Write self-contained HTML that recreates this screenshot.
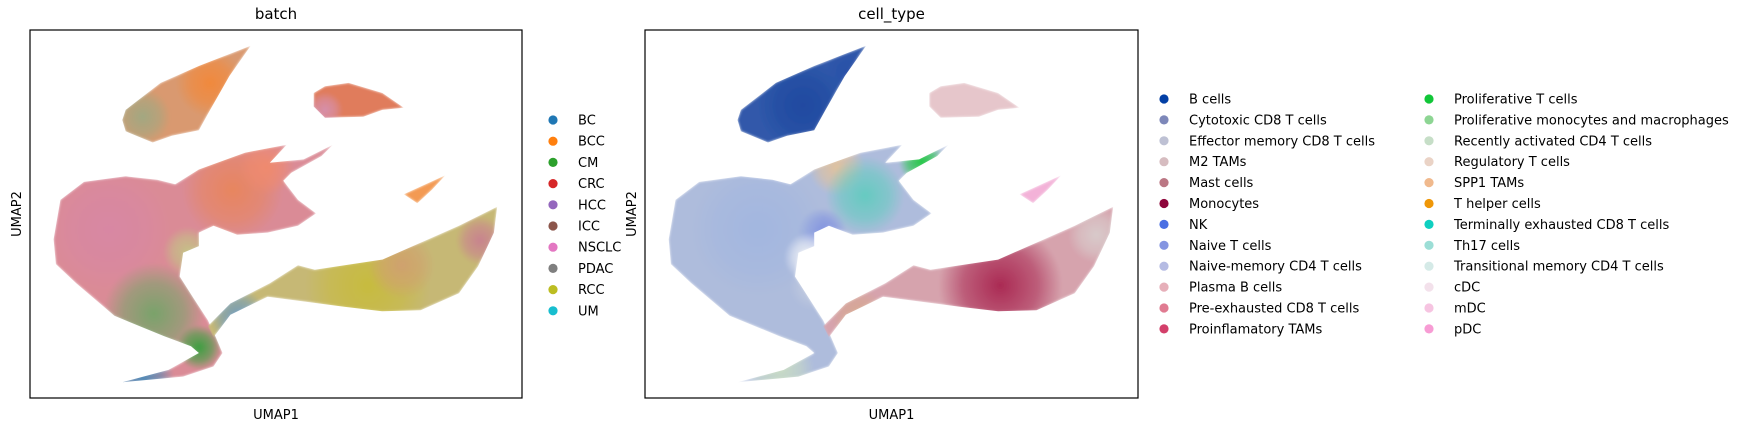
<!DOCTYPE html>
<html><head><meta charset="utf-8"><style>
html,body{margin:0;padding:0;background:#fff;}
svg{display:block;font-family:"DejaVu Sans","Liberation Sans",sans-serif;}
</style></head><body>
<svg id="fig" width="1764" height="429" viewBox="0 0 1764 429" xmlns="http://www.w3.org/2000/svg">
<defs>
<filter id="soft" x="-5%" y="-5%" width="110%" height="110%"><feGaussianBlur stdDeviation="1.2"/></filter>
</defs>
</svg>
<script>
// ---- data (UMAP coordinates, domain x 0..437, y 0..327) ----
const clusterNames = ["bcell-wedge","myeloid-arc","pdc-islet","tcell-main","macrophage-stream"];
const clusterOutlines = [
 [[82,247],[85,256],[116,280],[150,295],[196,313],[177,286],[160,256],[150,238],[126,233],[109,227],[85,237]],
 [[252,271],[262,277],[283,280],[313,271],[332,258],[313,256],[296,250],[262,249],[252,259]],
 [[334,182],[369,198],[357,185],[344,173],[332,181]],
 [[21,141],[27,176],[48,192],[85,197],[113,194],[129,190],[150,203],[191,218],[228,225],[213,209],[243,212],[269,225],[259,215],[232,200],[225,193],[238,176],[254,164],[238,153],[211,147],[184,145],[163,153],[150,147],[150,135],[136,129],[133,108],[145,89],[158,69],[165,54],[171,40],[163,28],[136,19],[82,14],[123,25],[150,40],[143,46],[119,55],[75,73],[41,102],[23,119]],
 [[158,64],[178,84],[213,102],[238,118],[253,114],[313,123],[381,153],[415,170],[412,147],[398,117],[381,93],[347,78],[313,77],[279,81],[211,90],[178,74],[163,54]]
];
const batchBase = ["#d9996f","#e07c5c","#f39a52","#da8b96","#c6b874"];
const cellBase  = ["#3059aa","#e6c6cb","#f3b2d8","#aebcdc","#d6a3ad"];
// colour patches: cluster index, centre x, centre y, radius, colour
const batchPatchCluster = [0,0,1,3,3,3,3,3,3,3,3,4,4,4,4];
const batchPatchX = [100,160,262,180,70,110,150,100,140,160,210,300,185,400,330];
const batchPatchY = [250,280,256,185,150,75,45,18,130,105,205,100,72,140,118];
const batchPatchR = [25,30,16,45,55,45,20,28,22,18,25,55,25,22,30];
const batchPatchC = ["#9fa882","#f2883a","#d690ae","#e8855c","#d887a4","#74a468","#34a03c","#4a88b6","#c4c286","#eef0ea","#f08a6c","#c7bb3c","#6d9bbf","#c98090","#d0a070"];
const cellPatchCluster = [0,0,3,3,3,3,3,3,3,3,4,4,4];
const cellPatchX = [140,180,170,195,245,157,100,120,150,145,315,400,190];
const cellPatchY = [260,290,205,180,210,147,150,25,100,125,100,145,72];
const cellPatchR = [40,20,25,35,20,22,60,30,22,22,55,25,25];
const cellPatchC = ["#1f49a0","#2a50a8","#e2c29c","#62cbbf","#1fc840","#7c8ee0","#a2b6e0","#c9dcc4","#c2cbe0","#f2f4f8","#a8244f","#d9cccc","#d6a890"];

const batchCats = ["BC","BCC","CM","CRC","HCC","ICC","NSCLC","PDAC","RCC","UM"];
const batchColors = ["#1f77b4","#ff7f0e","#2ca02c","#d62728","#9467bd","#8c564b","#e377c2","#7f7f7f","#bcbd22","#17becf"];
const cellCats = ["B cells","Cytotoxic CD8 T cells","Effector memory CD8 T cells","M2 TAMs","Mast cells","Monocytes","NK","Naive T cells","Naive-memory CD4 T cells","Plasma B cells","Pre-exhausted CD8 T cells","Proinflamatory TAMs","Proliferative T cells","Proliferative monocytes and macrophages","Recently activated CD4 T cells","Regulatory T cells","SPP1 TAMs","T helper cells","Terminally exhausted CD8 T cells","Th17 cells","Transitional memory CD4 T cells","cDC","mDC","pDC"];
const cellColors = ["#023fa5","#7d87b9","#bec1d4","#d6bcc0","#bb7784","#8e063b","#4a6fe3","#8595e1","#b5bbe3","#e6afb9","#e07b91","#d33f6a","#11c638","#8dd593","#c6dec7","#ead3c6","#f0b98d","#ef9708","#0fcfc0","#9cded6","#d5eae7","#f3e1eb","#f6c4e1","#f79cd4"];

const NS="http://www.w3.org/2000/svg";
const svg=document.getElementById('fig');
function mk(tag,attrs,parent){const e=document.createElementNS(NS,tag);for(const k in attrs)e.setAttribute(k,attrs[k]);(parent||svg).appendChild(e);return e;}

function drawPanel(ax, title, base, pc, px, py, pr, pcol, pid){
  const xS=u=>ax.x0+(u/437)*(ax.x1-ax.x0);
  const yS=v=>ax.y1-(v/327)*(ax.y1-ax.y0);
  const rS=r=>r*(ax.x1-ax.x0)/437;
  const g=mk('g',{});
  
  
  const defs=svg.querySelector('defs');
  clusterOutlines.forEach((pts,i)=>{
    const d='M'+pts.map(p=>xS(p[0]).toFixed(1)+','+yS(p[1]).toFixed(1)).join('L')+'Z';
    const cp=mk('clipPath',{id:pid+'clip'+i},defs);
    mk('path',{d:d},cp);
    const cg=mk('g',{'clip-path':'url(#'+pid+'clip'+i+')',filter:'url(#soft)'},g);
    
    
    mk('path',{d:d,fill:base[i]},cg);
    pc.forEach((c,j)=>{
      if(c!==i)return;
      const gid=pid+'grad'+j;
      const rg=mk('radialGradient',{id:gid},defs);
      mk('stop',{offset:'0','stop-color':pcol[j],'stop-opacity':'0.95'},rg);
      mk('stop',{offset:'0.6','stop-color':pcol[j],'stop-opacity':'0.55'},rg);
      mk('stop',{offset:'1','stop-color':pcol[j],'stop-opacity':'0'},rg);
      const el=mk('circle',{cx:xS(px[j]),cy:yS(py[j]),r:rS(pr[j]),fill:'url(#'+gid+')'},cg);
      
      
    });
  });
  const fr=mk('rect',{x:ax.x0,y:ax.y0,width:ax.x1-ax.x0,height:ax.y1-ax.y0,fill:'none',stroke:'#000','stroke-width':1.2});
  
  
  const t=mk('text',{x:(ax.x0+ax.x1)/2,y:19,'text-anchor':'middle','font-size':15,fill:'#000'});
  t.textContent=title;
  
  
  const xl=mk('text',{x:(ax.x0+ax.x1)/2,y:419,'text-anchor':'middle','font-size':13,fill:'#000'});
  xl.textContent='UMAP1';
  
  
  const yx=ax.x0-9, yy=(ax.y0+ax.y1)/2;
  const yl=mk('text',{x:yx,y:yy,'text-anchor':'middle','font-size':13,fill:'#000',transform:'rotate(-90 '+yx+' '+yy+')'});
  yl.textContent='UMAP2';
  
  
}
drawPanel({x0:30,x1:522,y0:30,y1:398},'batch',batchBase,batchPatchCluster,batchPatchX,batchPatchY,batchPatchR,batchPatchC,'batch');
drawPanel({x0:645,x1:1138,y0:30,y1:398},'cell_type',cellBase,cellPatchCluster,cellPatchX,cellPatchY,cellPatchR,cellPatchC,'cell');

function legend(cats,cols,dotX,textX,y0,step,perCol,colDx,pid){
  cats.forEach((c,i)=>{
    const col=Math.floor(i/perCol), row=i%perCol;
    const y=y0+row*step;
    const g=mk('g',{});
    
    
    mk('circle',{cx:dotX+col*colDx,cy:y,r:4.6,fill:cols[i]},g);
    const t=mk('text',{x:textX+col*colDx,y:y+4.5,'font-size':13,fill:'#000'},g);
    t.textContent=c;
  });
}
legend(batchCats,batchColors,553,578,120,21.2,10,0,'batch');
legend(cellCats,cellColors,1164,1189,99,20.9,12,265,'cell');
</script>
</body></html>
